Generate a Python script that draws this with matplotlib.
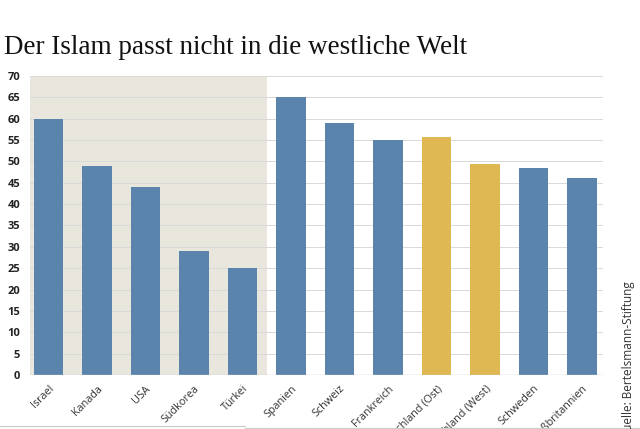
import matplotlib
matplotlib.use("Agg")
import matplotlib.pyplot as plt
from matplotlib.lines import Line2D

countries = ["Israel", "Kanada", "USA", "Südkorea", "Türkei", "Spanien", "Schweiz",
             "Frankreich", "Deutschland (Ost)", "Deutschland (West)", "Schweden", "Großbritannien"]
values = [60, 49, 44, 29, 25, 65, 59, 55, 55.6, 49.3, 48.4, 46]
highlight = [False, False, False, False, False, False, False, False, True, True, False, False]
yticks = list(range(0, 75, 5))
title = "Der Islam passt nicht in die westliche Welt"
source = "Quelle: Bertelsmann-Stiftung"

blue = "#5b84ad"
gold = "#e0b853"
shade = "#e9e6dd"

fig = plt.figure(figsize=(6.4, 4.29), dpi=100)
ax = fig.add_axes([0.047, 0.126, 0.895, 0.697])

x = list(range(len(countries)))
colors = [gold if h else blue for h in highlight]
ax.set_xlim(-0.38, len(countries) - 1 + 0.43)
ax.set_ylim(0, 70)
ax.axvspan(-0.38, 4.5, color=shade, zorder=0, lw=0)
ax.bar(x, values, width=0.6, color=colors, zorder=3)

ax.set_yticks(yticks)
ax.set_yticklabels([str(t) for t in yticks], fontsize=8, fontweight="bold",
                   color="#222222", family="Open Sans")
for t in yticks:
    ax.axhline(t, color="#d9d9d9", lw=0.7, zorder=1)
ax.axhline(0, color="#c8c8c8", lw=1.0, zorder=4)

ax.set_xticks(x)
ax.set_xticklabels(countries, rotation=45, ha="right", rotation_mode="anchor",
                   fontsize=7.8, color="#333333", family="Open Sans")
ax.tick_params(axis="both", length=0)
ax.tick_params(axis="y", pad=7)
ax.tick_params(axis="x", pad=6)
for s in ax.spines.values():
    s.set_visible(False)

fig.text(0.006, 0.873, title, family="Liberation Serif", fontsize=19.5, color="#111111",
         ha="left", va="baseline")
fig.text(0.982, 0.345, source, rotation=90, rotation_mode="anchor", ha="right",
         va="center", fontsize=8.5, color="#333333", family="Open Sans")

fig.add_artist(Line2D([0, 0.383], [0.006, 0.006], transform=fig.transFigure,
                      color="#cccccc", lw=0.8))
fig.add_artist(Line2D([0.383, 1], [0.003, 0.003], transform=fig.transFigure,
                      color="#cccccc", lw=0.8))

fig.savefig("out.png", dpi=100)
